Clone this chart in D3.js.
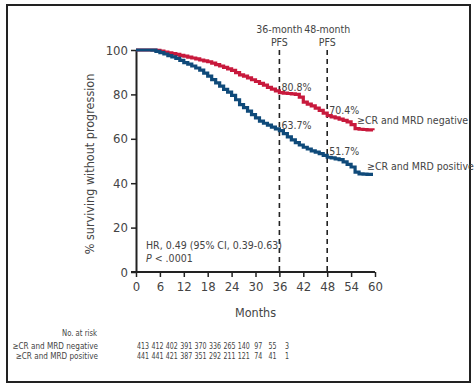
<!DOCTYPE html>
<html>
<head>
<meta charset="utf-8">
<script src="https://cdn.jsdelivr.net/npm/d3@7/dist/d3.min.js"></script>
<style>
  html, body { margin: 0; padding: 0; background: #fff; }
  svg { display: block; }
  text { font-family: "DejaVu Sans Condensed", "DejaVu Sans", sans-serif; fill: #444; }
</style>
</head>
<body>
<svg id="chart" width="475" height="385"></svg>
<script>
// ---- data ----
const months = [0,1,2,3,4,5,6,7,8,9,10,11,12,13,14,15,16,17,18,19,20,21,22,23,24,25,26,27,28,29,30,31,32,33,34,35,36,37,38,39,40,41,42,43,44,45,46,47,48,49,50,51,52,53,54,55,56,57,58,59.5];
const mrdNegative = [100,100,100,100,100,99.8,99.5,99.1,98.7,98.4,98.0,97.6,97.2,96.8,96.4,96.0,95.5,95.1,94.7,94.1,93.4,92.8,92.2,91.5,90.8,89.8,88.8,88.2,87.4,86.6,85.8,85.0,84.2,83.2,82.4,81.6,80.8,80.6,80.4,80.2,80.0,78.8,76.5,75.6,74.8,73.8,72.8,71.6,70.4,69.9,69.4,68.9,68.3,67.6,66.4,64.6,64.3,64.2,64.0,63.8];
const mrdPositive = [100,100,100,100,99.9,99.4,98.8,98.2,97.5,96.9,96.2,95.3,94.3,93.6,92.8,91.9,90.9,89.6,88.2,86.7,85.2,83.7,82.3,81.0,79.6,77.6,75.4,74.0,72.5,70.9,69.4,68.0,67.0,66.2,65.3,64.5,63.7,62.3,60.9,59.5,58.3,57.2,56.2,55.4,54.6,54.0,53.3,52.5,51.7,51.4,51.0,50.6,49.6,48.5,47.3,45.0,44.2,44.1,44.0,44.0];
const xTicks = [0,6,12,18,24,30,36,42,48,54,60];
const yTicks = [0,20,40,60,80,100];
const pfsMarks = [36, 48];
const pfsLabels = ["36-month", "48-month"];
const annotations = [
  {m: 36, v: 80.8, label: "80.8%"},
  {m: 48, v: 70.4, label: "70.4%"},
  {m: 36, v: 63.7, label: "63.7%"},
  {m: 48, v: 51.7, label: "51.7%"}
];
const seriesNames = ["\u2265CR and MRD negative", "\u2265CR and MRD positive"];
const riskNegative = [413,412,402,391,370,336,265,140,97,55,3];
const riskPositive = [441,441,421,387,351,292,211,121,74,41,1];

// ---- layout ----
const svg = d3.select("#chart");
const red = "#c8193c", blue = "#0f4a7a";

svg.append("rect").attr("x", 7).attr("y", 5).attr("width", 463).attr("height", 377)
  .attr("fill", "none").attr("stroke", "#222").attr("stroke-width", 2);

const x = d3.scaleLinear().domain([0, 60]).range([136, 375]);
const y = d3.scaleLinear().domain([0, 100]).range([272, 50]);

// axes
const xAxis = svg.append("g").attr("transform", `translate(0,${y(0)})`)
  .call(d3.axisBottom(x).tickValues(xTicks).tickSize(5).tickPadding(5).tickSizeOuter(0));
const yAxis = svg.append("g").attr("transform", `translate(${x(0)},0)`)
  .call(d3.axisLeft(y).tickValues(yTicks).tickSize(5).tickPadding(3).tickSizeOuter(0));
[xAxis, yAxis].forEach(g => {
  g.select(".domain").attr("stroke", "#222").attr("stroke-width", 2);
  g.selectAll(".tick line").attr("stroke", "#222").attr("stroke-width", 1.5);
  g.selectAll(".tick text").attr("font-size", 13).attr("fill", "#444")
    .attr("font-family", '"DejaVu Sans Condensed", "DejaVu Sans", sans-serif');
});
xAxis.select(".domain").attr("d", `M${x(0)-5},0H${x(60)}`);

svg.append("text").attr("x", x(30)).attr("y", 317).attr("text-anchor", "middle")
  .attr("font-size", 12.5).text("Months");
svg.append("text").attr("transform", `translate(94,${(y(0)+y(100))/2 + 3}) rotate(-90)`)
  .attr("text-anchor", "middle").attr("font-size", 12.5).text("% surviving without progression");

// PFS dashed lines
pfsMarks.forEach((m, i) => {
  svg.append("line").attr("x1", x(m)).attr("x2", x(m)).attr("y1", y(100)).attr("y2", y(0))
    .attr("stroke", "#222").attr("stroke-width", 1.6).attr("stroke-dasharray", "5,4");
  svg.append("text").attr("x", x(m)).attr("y", 33).attr("text-anchor", "middle")
    .attr("font-size", 10.5).text(pfsLabels[i]);
  svg.append("text").attr("x", x(m)).attr("y", 46).attr("text-anchor", "middle")
    .attr("font-size", 10.5).text("PFS");
});

// curves
const line = d3.line().x((d, i) => x(months[i])).y(d => y(d)).curve(d3.curveStepAfter);
svg.append("path").datum(mrdNegative).attr("d", line).attr("fill", "none")
  .attr("stroke", red).attr("stroke-width", 3.2);
svg.append("path").datum(mrdPositive).attr("d", line).attr("fill", "none")
  .attr("stroke", blue).attr("stroke-width", 3.2);

// annotations
annotations.forEach(a => {
  svg.append("text").attr("x", x(a.m) + 2).attr("y", y(a.v) - 2)
    .attr("font-size", 10.5).text(a.label);
});
svg.append("text").attr("x", 357).attr("y", 124).attr("font-size", 10.5).text(seriesNames[0]);
svg.append("text").attr("x", 367).attr("y", 170).attr("font-size", 10.5).text(seriesNames[1]);

// HR text
svg.append("text").attr("x", 146).attr("y", 249).attr("font-size", 10.5)
  .text("HR, 0.49 (95% CI, 0.39-0.63)");
const p = svg.append("text").attr("x", 146).attr("y", 262).attr("font-size", 10.5);
p.append("tspan").attr("font-style", "italic").text("P");
p.append("tspan").text(" < .0001");

// risk table (condensed via horizontal scale transform)
const rx = d3.scalePoint().domain(d3.range(riskNegative.length)).range([143, 287]);
const fs = 9;
svg.append("text").attr("transform", "translate(97,336) scale(0.85,1)")
  .attr("text-anchor", "end").attr("font-size", fs).text("No. at risk");
[[riskNegative, 348.5, seriesNames[0]], [riskPositive, 359, seriesNames[1]]].forEach(([vals, yy, name]) => {
  svg.append("text").attr("transform", `translate(98,${yy}) scale(0.9,1)`)
    .attr("text-anchor", "end").attr("font-size", fs).text(name);
  svg.selectAll(null).data(vals).enter().append("text")
    .attr("transform", (d, i) => `translate(${rx(i)},${yy}) scale(0.78,1)`)
    .attr("text-anchor", "middle").attr("font-size", fs)
    .text(d => d);
});
</script>
</body>
</html>
